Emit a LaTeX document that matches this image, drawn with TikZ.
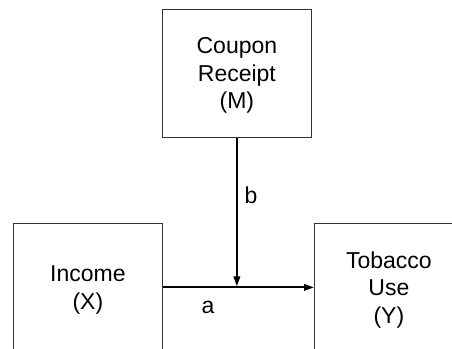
\documentclass[tikz,border=0pt]{standalone}
\usepackage{fontspec}
\setmainfont{Liberation Sans}
\usetikzlibrary{arrows.meta}
\usetikzlibrary{positioning}

\tikzset{
  varbox/.style={draw=black!80, line width=0.8pt, anchor=north west, minimum width=149pt, minimum height=128pt,
    align=center, inner sep=0pt, text depth=-15pt, font=\fontsize{23}{27.5}\selectfont},
  path/.style={line width=2pt, -{Triangle[width=6.5pt,length=10pt]}},
  lbl/.style={font=\fontsize{23}{27.5}\selectfont}
}

\begin{document}
\begin{tikzpicture}[x=1pt,y=-1pt]
\useasboundingbox (0,0) rectangle (452,348);
\clip (0,0) rectangle (452,348);
\node[varbox] (coupon) at (162,9) {Coupon\\Receipt\\(M)};
\node[varbox] (income) at (13,223) {Income\\(X)};
\node[varbox] (tobacco) at (314,223) {Tobacco\\Use\\(Y)};
\coordinate (meet) at (coupon.south |- income.east);
\draw[path] (income.east) -- (tobacco.west);
\draw[path, shorten >=1pt] (coupon.south) -- (meet);
\node[lbl] (b) at (251,195) {b};
\node[lbl] (a) at (208,307) {a};
\end{tikzpicture}
\end{document}
